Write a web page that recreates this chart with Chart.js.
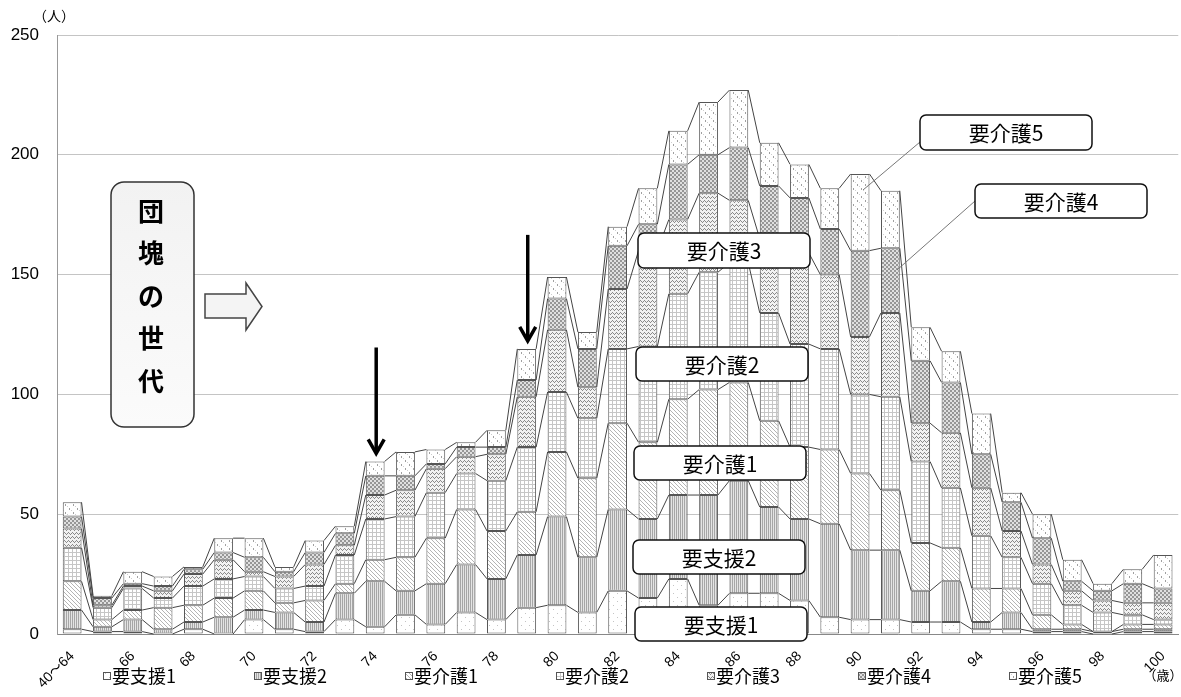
<!DOCTYPE html>
<html lang="ja">
<head>
<meta charset="utf-8">
<title>要介護度別人数</title>
<script src="https://cdn.jsdelivr.net/npm/chart.js@4.4.1/dist/chart.umd.min.js"></script>
<style>
  html, body { margin: 0; padding: 0; background: #fff; }
  #wrap { width: 1181px; height: 697px; }
</style>
</head>
<body>
<div id="wrap"><canvas id="careChart"></canvas></div>
<script>
// 年齢（40～64はまとめて1本）
const ages = ["40～64", "65", "66", "67", "68", "69", "70", "71", "72", "73", "74",
  "75", "76", "77", "78", "79", "80", "81", "82", "83", "84", "85", "86", "87",
  "88", "89", "90", "91", "92", "93", "94", "95", "96", "97", "98", "99", "100"];

// 要介護度別の人数（人）
const shien1 = [2, 1, 1, 0, 2, 0, 6, 2, 1, 6, 3, 8, 4, 9, 6, 11, 12, 9, 18, 15, 23, 12, 17, 17, 14, 7, 6, 6, 5, 5, 2, 2, 1, 1, 0, 1, 1];
const shien2 = [8, 2, 5, 2, 3, 7, 4, 7, 4, 11, 19, 10, 17, 20, 17, 22, 37, 23, 34, 33, 35, 46, 47, 36, 34, 39, 29, 29, 13, 17, 3, 7, 1, 1, 1, 1, 1];
const kaigo1 = [12, 3, 4, 9, 7, 8, 8, 4, 9, 4, 9, 14, 19, 23, 20, 18, 27, 33, 36, 32, 40, 44, 41, 36, 30, 31, 32, 25, 20, 14, 14, 10, 6, 2, 0, 2, 2];
const kaigo2 = [14, 5, 9, 4, 8, 8, 6, 6, 6, 12, 17, 17, 19, 15, 21, 27, 25, 25, 31, 40, 44, 49, 50, 45, 43, 42, 33, 39, 34, 25, 22, 13, 13, 8, 8, 4, 2];
const kaigo3 = [8, 1, 1, 3, 5, 8, 2, 5, 9, 4, 10, 11, 10, 7, 11, 21, 26, 13, 25, 40, 31, 33, 26, 31, 38, 31, 24, 35, 16, 23, 20, 11, 8, 6, 5, 5, 7];
const kaigo4 = [5, 3, 1, 2, 2, 3, 6, 2, 5, 5, 8, 6, 2, 4, 3, 7, 13, 16, 18, 11, 23, 16, 22, 22, 23, 19, 36, 27, 26, 21, 14, 12, 11, 4, 4, 8, 6];
const kaigo5 = [6, 1, 5, 4, 1, 6, 8, 2, 5, 3, 6, 10, 6, 2, 7, 13, 9, 7, 8, 15, 14, 22, 24, 18, 14, 17, 32, 24, 14, 13, 17, 4, 10, 9, 3, 6, 14];

const seriesNames = ["要支援1", "要支援2", "要介護1", "要介護2", "要介護3", "要介護4", "要介護5"];
const yTicks = [0, 50, 100, 150, 200, 250];

// 白黒のハッチング
function makePattern(draw) {
  const c = document.createElement("canvas");
  c.width = 8;
  c.height = 8;
  const g = c.getContext("2d");
  draw(g);
  return g.createPattern(c, "repeat");
}
function px(g, x, y, col) {
  g.fillStyle = col;
  g.fillRect(x, y, 1, 1);
}

const patterns = [
  makePattern(g => { // 要支援1 まばらな点
    g.fillStyle = "#fff"; g.fillRect(0, 0, 8, 8);
    px(g, 1, 1, "#c4c4c4"); px(g, 5, 5, "#c4c4c4");
  }),
  makePattern(g => { // 要支援2 縦線
    g.fillStyle = "#e4e4e4"; g.fillRect(0, 0, 8, 8);
    for (let x = 0; x < 8; x += 2) { g.fillStyle = "#a6a6a6"; g.fillRect(x, 0, 1, 8); }
  }),
  makePattern(g => { // 要介護1 斜線
    g.fillStyle = "#fff"; g.fillRect(0, 0, 8, 8);
    for (let x = 0; x < 8; x++) for (let y = 0; y < 8; y++) if ((x - y + 8) % 4 === 0) px(g, x, y, "#b4b4b4");
  }),
  makePattern(g => { // 要介護2 格子
    g.fillStyle = "#fff"; g.fillRect(0, 0, 8, 8);
    g.fillStyle = "#c6c6c6";
    g.fillRect(0, 0, 8, 1); g.fillRect(0, 4, 8, 1);
    g.fillRect(0, 0, 1, 8); g.fillRect(4, 0, 1, 8);
  }),
  makePattern(g => { // 要介護3 波線
    g.fillStyle = "#f2f2f2"; g.fillRect(0, 0, 8, 8);
    const tri = [0, 1, 2, 1, 0, 1, 2, 1];
    for (let x = 0; x < 8; x++) { px(g, x, tri[x], "#8a8a8a"); px(g, x, tri[x] + 4, "#8a8a8a"); }
  }),
  makePattern(g => { // 要介護4 市松
    for (let x = 0; x < 8; x++) for (let y = 0; y < 8; y++) {
      px(g, x, y, (Math.floor(x / 2) + Math.floor(y / 2)) % 2 ? "#e0e0e0" : "#969696");
    }
  }),
  makePattern(g => { // 要介護5 点線
    g.fillStyle = "#fff"; g.fillRect(0, 0, 8, 8);
    px(g, 1, 0, "#a0a0a0"); px(g, 1, 1, "#a0a0a0");
    px(g, 5, 4, "#a0a0a0"); px(g, 5, 5, "#a0a0a0");
    px(g, 3, 2, "#d0d0d0"); px(g, 7, 6, "#d0d0d0");
  })
];

const seriesData = [shien1, shien2, kaigo1, kaigo2, kaigo3, kaigo4, kaigo5];

// 棒の上端を結ぶ区分線
const seriesLines = {
  id: "seriesLines",
  afterDatasetsDraw(chart) {
    const ctx = chart.ctx;
    ctx.save();
    ctx.strokeStyle = "#444";
    ctx.lineWidth = 1;
    chart.data.datasets.forEach((ds, d) => {
      const bars = chart.getDatasetMeta(d).data;
      ctx.beginPath();
      for (let i = 0; i < bars.length - 1; i++) {
        const a = bars[i], b = bars[i + 1];
        ctx.moveTo(a.x + a.width / 2, a.y);
        ctx.lineTo(b.x - b.width / 2, b.y);
      }
      ctx.stroke();
    });
    ctx.restore();
  }
};

function roundBox(ctx, x, y, w, h, r) {
  ctx.beginPath();
  ctx.moveTo(x + r, y);
  ctx.arcTo(x + w, y, x + w, y + h, r);
  ctx.arcTo(x + w, y + h, x, y + h, r);
  ctx.arcTo(x, y + h, x, y, r);
  ctx.arcTo(x, y, x + w, y, r);
  ctx.closePath();
}

function labelBox(ctx, text, x, y, w, h) {
  roundBox(ctx, x, y, w, h, 6);
  ctx.fillStyle = "#fff";
  ctx.fill();
  ctx.lineWidth = 1.5;
  ctx.strokeStyle = "#111";
  ctx.stroke();
  ctx.fillStyle = "#000";
  ctx.font = '21px "Noto Sans CJK JP", sans-serif';
  ctx.textAlign = "center";
  ctx.textBaseline = "middle";
  ctx.fillText(text, x + w / 2, y + h / 2 + 1);
}

function downArrow(ctx, x, tip) {
  ctx.strokeStyle = "#000";
  ctx.lineWidth = 3.5;
  ctx.lineJoin = "miter";
  ctx.beginPath();
  ctx.moveTo(x, tip - 106);
  ctx.lineTo(x, tip - 2);
  ctx.stroke();
  ctx.beginPath();
  ctx.moveTo(x - 8, tip - 14);
  ctx.lineTo(x, tip);
  ctx.lineTo(x + 8, tip - 14);
  ctx.stroke();
}

const notes = {
  id: "notes",
  afterDraw(chart) {
    const ctx = chart.ctx;
    ctx.save();

    // 単位
    ctx.fillStyle = "#000";
    ctx.font = '14px "Noto Sans CJK JP", sans-serif';
    ctx.textAlign = "center";
    ctx.textBaseline = "middle";
    ctx.fillText("（人）", 54, 16);
    ctx.font = '13px "Noto Sans CJK JP", sans-serif';
    ctx.fillText("（歳）", 1163, 675);

    // 団塊の世代
    const g = ctx.createLinearGradient(0, 181, 0, 427);
    g.addColorStop(0, "#f2f2f2");
    g.addColorStop(1, "#fbfbfb");
    roundBox(ctx, 111, 182, 83, 245, 13);
    ctx.fillStyle = g;
    ctx.fill();
    ctx.lineWidth = 1.5;
    ctx.strokeStyle = "#333";
    ctx.stroke();
    ctx.fillStyle = "#000";
    ctx.font = 'bold 26px "Noto Sans CJK JP", sans-serif';
    ["団", "塊", "の", "世", "代"].forEach((c, i) => ctx.fillText(c, 151, 211 + i * 42.5));

    // 白抜き矢印
    ctx.beginPath();
    ctx.moveTo(205, 294);
    ctx.lineTo(246, 294);
    ctx.lineTo(246, 283);
    ctx.lineTo(262, 306.5);
    ctx.lineTo(246, 330);
    ctx.lineTo(246, 318);
    ctx.lineTo(205, 318);
    ctx.closePath();
    ctx.fillStyle = "#f4f4f4";
    ctx.fill();
    ctx.lineWidth = 1.5;
    ctx.strokeStyle = "#444";
    ctx.stroke();

    // 団塊の世代の位置を示す矢印（74歳・79歳）
    [10, 15].forEach(i => {
      const top = chart.getDatasetMeta(6).data[i];
      downArrow(ctx, top.x + 1, top.y - 8);
    });

    // 引き出し線
    ctx.strokeStyle = "#777";
    ctx.lineWidth = 1;
    ctx.beginPath();
    ctx.moveTo(920, 142); ctx.lineTo(863, 190);
    ctx.moveTo(975, 201); ctx.lineTo(897, 270);
    ctx.stroke();

    // 区分ラベル
    labelBox(ctx, "要介護5", 920, 115, 172, 35);
    labelBox(ctx, "要介護4", 975, 184, 172, 34);
    labelBox(ctx, "要介護3", 638, 233, 172, 35);
    labelBox(ctx, "要介護2", 636, 347, 172, 34);
    labelBox(ctx, "要介護1", 634, 446, 172, 34);
    labelBox(ctx, "要支援2", 633, 540, 172, 34);
    labelBox(ctx, "要支援1", 635, 607, 172, 34);

    // 凡例
    ctx.font = '18px "Noto Sans CJK JP", sans-serif';
    ctx.textAlign = "left";
    ctx.textBaseline = "middle";
    chart.data.datasets.forEach((ds, d) => {
      const lx = 103 + d * 151;
      ctx.fillStyle = ds.backgroundColor;
      ctx.fillRect(lx, 672, 7, 7);
      ctx.strokeStyle = "#555";
      ctx.lineWidth = 1;
      ctx.strokeRect(lx + 0.5, 672.5, 7, 7);
      ctx.fillStyle = "#000";
      ctx.fillText(ds.label, lx + 9, 676);
    });

    ctx.restore();
  }
};

new Chart(document.getElementById("careChart"), {
  type: "bar",
  data: {
    labels: ages,
    datasets: seriesNames.map((name, d) => ({
      label: name,
      data: seriesData[d],
      backgroundColor: patterns[d],
      borderColor: "#555",
      borderWidth: 1,
      borderSkipped: false,
      barPercentage: 0.62,
      categoryPercentage: 1
    }))
  },
  options: {
    responsive: true,
    maintainAspectRatio: false,
    animation: false,
    layout: { padding: { top: 35, right: 0, bottom: 0, left: 0 } },
    plugins: {
      legend: { display: false },
      tooltip: { enabled: false }
    },
    scales: {
      x: {
        stacked: true,
        grid: { display: false },
        border: { color: "#888" },
        ticks: {
          autoSkip: false,
          maxRotation: 45,
          minRotation: 45,
          padding: 6,
          color: "#000",
          font: { family: '"Liberation Sans", "Noto Sans CJK JP", sans-serif', size: 14 },
          callback: (v, i) => (i % 2 === 0 ? ages[i] : "")
        },
        afterFit: s => { s.height = 63; }
      },
      y: {
        stacked: true,
        min: 0,
        max: 250,
        afterBuildTicks: s => { s.ticks = yTicks.map(v => ({ value: v })); },
        grid: { color: "#c4c4c4", drawTicks: false },
        border: { color: "#999" },
        ticks: {
          padding: 18,
          color: "#000",
          font: { family: '"Liberation Sans", sans-serif', size: 17 }
        },
        afterFit: s => { s.width = 57; }
      }
    }
  },
  plugins: [seriesLines, notes]
});
</script>
</body>
</html>
